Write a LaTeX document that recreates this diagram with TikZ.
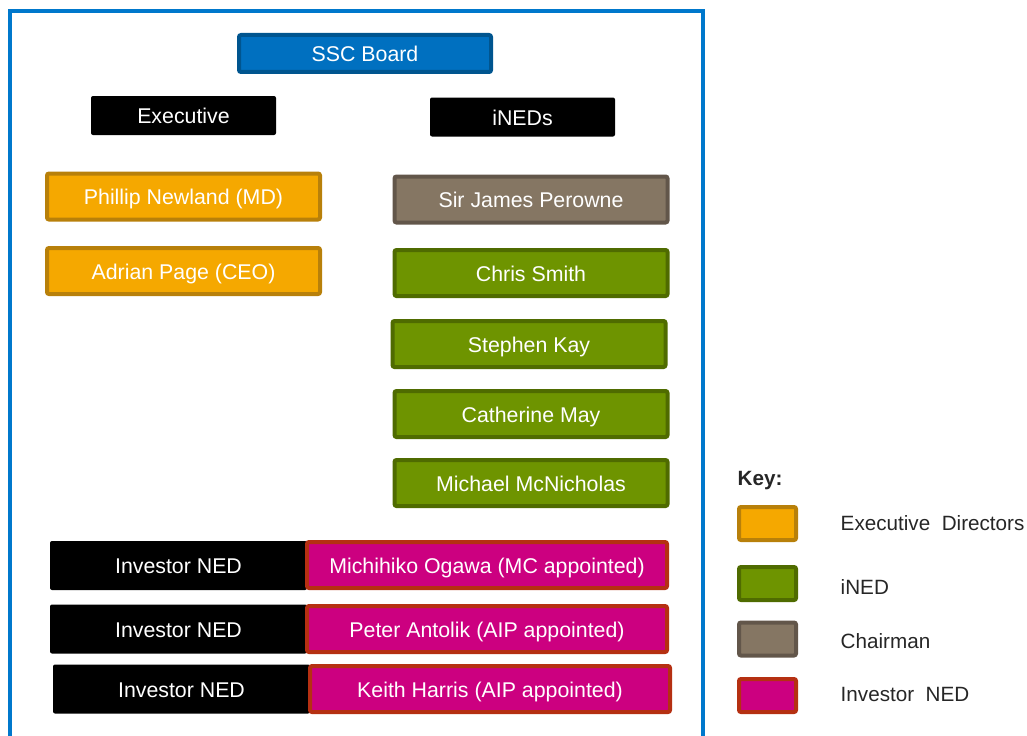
\documentclass[tikz,border=0pt]{standalone}
\usepackage{fontspec}
\setmainfont{Liberation Sans}
\usepackage{xcolor}
\usepackage{tikz}
\usetikzlibrary{positioning}
\definecolor{frameblue}{HTML}{0078CC}
\definecolor{sscfill}{HTML}{0070C0}
\definecolor{sscline}{HTML}{00558F}
\definecolor{execfill}{HTML}{F5A800}
\definecolor{execline}{HTML}{B8800A}
\definecolor{inedfill}{HTML}{6E9400}
\definecolor{inedline}{HTML}{4F6B00}
\definecolor{chairfill}{HTML}{857663}
\definecolor{chairline}{HTML}{62564A}
\definecolor{invfill}{HTML}{CC0080}
\definecolor{invline}{HTML}{B53012}
\definecolor{keytext}{HTML}{262626}

\begin{document}
\begin{tikzpicture}[x=0.75pt, y=-0.75pt,
  every node/.style={font=\fontsize{16}{19}\selectfont, text=white},
  boxtext/.style={text height=12pt, text depth=0pt},
  board/.style={boxtext, draw=sscline, fill=sscfill, line width=3pt, rounded corners=1.5pt,
              minimum width=189pt, minimum height=27.75pt},
  head/.style={boxtext, fill=black, rounded corners=1.5pt,
              minimum width=138.75pt, minimum height=29.25pt},
  person/.style={boxtext, line width=3pt, rounded corners=1.5pt,
              minimum width=204.75pt, minimum height=34.5pt},
  execbox/.style={person, draw=execline, fill=execfill},
  inedbox/.style={person, draw=inedline, fill=inedfill},
  chairbox/.style={person, draw=chairline, fill=chairfill},
  invlabel/.style={boxtext, fill=black, rounded corners=1.5pt,
              minimum width=192.75pt, minimum height=36.75pt},
  invbox/.style={boxtext, draw=invline, fill=invfill, line width=3pt, rounded corners=1.5pt,
              minimum width=270pt, minimum height=34.5pt},
  swatch/.style={line width=3pt, rounded corners=1.5pt,
              minimum width=42.75pt, minimum height=24.75pt},
  keylabel/.style={anchor=west, text=keytext, font=\fontsize{15.5}{18}\selectfont},
]
  \useasboundingbox (0,0) rectangle (1027,735);
  \clip (0,0) rectangle (1027,735);

  % outer frame, open at the bottom
  \draw[frameblue, line width=3pt] (10,745) -- (10,11) -- (703,11) -- (703,745);

  \node[board] (ssc) at (365,53.5) {SSC Board};
  \node[head] (exec) at (183.5,115.5) {Executive};
  \node[head] (ineds) at (522.5,117) {iNEDs};

  % executive directors
  \node[execbox] (newland) at (183.5,196.5) {Phillip Newland (MD)};
  \node[execbox] (page) at (183.5,271) {Adrian Page (CEO)};

  % independent NEDs
  \node[chairbox] (perowne) at (531,199.5) {Sir James Perowne};
  \node[inedbox] (smith) at (531,273) {Chris Smith};
  \node[inedbox] (kay) at (529,344) {Stephen Kay};
  \node[inedbox] (may) at (531,414) {Catherine May};
  \node[inedbox] (mcnicholas) at (531,483) {Michael McNicholas};

  % investor NEDs
  \node[invlabel] (invA) at (178.5,565.5) {Investor NED};
  \node[invbox] (ogawa) at (487,565) {Michihiko Ogawa (MC appointed)};
  \node[invlabel] (invB) at (178.5,629) {Investor NED};
  \node[invbox] (antolik) at (487,629) {Peter Antolik (AIP appointed)};
  \node[invlabel] (invC) at (181.5,689) {Investor NED};
  \node[invbox] (harris) at (490,689) {Keith Harris (AIP appointed)};

  % key
  \node[anchor=west, text=keytext, font=\fontsize{15.5}{18}\selectfont\bfseries] (key) at (733,481) {Key:};
  \node[swatch, draw=execline, fill=execfill] (kexec) at (767.5,523.5) {};
  \node[swatch, draw=inedline, fill=inedfill] (kined) at (767.5,583.5) {};
  \node[swatch, draw=chairline, fill=chairfill] (kchair) at (767.5,639) {};
  \node[swatch, draw=invline, fill=invfill] (kinv) at (767.5,695.5) {};
  \node[keylabel] (lexec) at (836,523.5) {Executive\ \ Directors};
  \node[keylabel] (lined) at (836,587) {iNED};
  \node[keylabel] (lchair) at (836,641) {Chairman};
  \node[keylabel] (linv) at (836,694) {Investor\ \ NED};
\end{tikzpicture}
\end{document}
